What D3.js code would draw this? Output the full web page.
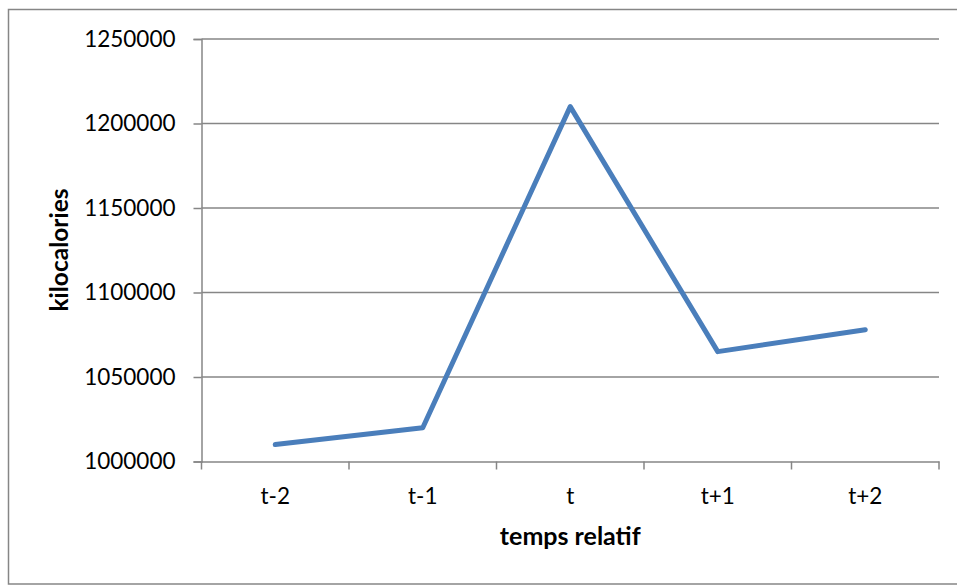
<!DOCTYPE html>
<html>
<head>
<meta charset="utf-8">
<script src="https://cdn.jsdelivr.net/npm/d3@7"></script>
<style>
  html, body { margin: 0; padding: 0; background: #ffffff; }
  svg { display: block; }
  text { font-family: Lato, "Open Sans", sans-serif; fill: #000; }
</style>
</head>
<body>
<svg id="chart" width="957" height="585"></svg>
<script>
const categories = ["t-2", "t-1", "t", "t+1", "t+2"];
const values = [1010000, 1020000, 1210000, 1065000, 1078000];
const yTicks = [1000000, 1050000, 1100000, 1150000, 1200000, 1250000];
const xTitle = "temps relatif";
const yTitle = "kilocalories";

const svg = d3.select("#chart");
const W = 957, H = 585;
const plot = { left: 201.5, right: 939, top: 39, bottom: 461.5 };
const gridColor = "#868686";

// outer frame
svg.append("rect")
  .attr("x", 8.5).attr("y", 9.5)
  .attr("width", 960).attr("height", 574.5)
  .attr("fill", "#fff").attr("stroke", gridColor).attr("stroke-width", 1.5);

const x = d3.scaleBand().domain(categories).range([plot.left, plot.right]).padding(0);
const y = d3.scaleLinear().domain([1000000, 1250000]).range([plot.bottom, plot.top]);

// gridlines
svg.append("g")
  .selectAll("line")
  .data(yTicks.filter(t => t !== 1000000))
  .join("line")
  .attr("x1", plot.left).attr("x2", plot.right)
  .attr("y1", d => y(d)).attr("y2", d => y(d))
  .attr("stroke", gridColor).attr("stroke-width", 1.5);

// y axis
const yAxis = svg.append("g")
  .attr("transform", `translate(${plot.left},0)`)
  .call(d3.axisLeft(y).tickValues(yTicks).tickSize(8).tickPadding(18).tickFormat(d3.format("d")));
yAxis.select(".domain").attr("stroke", gridColor).attr("stroke-width", 1.5);
yAxis.selectAll(".tick line").attr("stroke", gridColor).attr("stroke-width", 1.5);
yAxis.selectAll(".tick text")
  .style("font-size", "22.5px").style("font-family", "Lato, sans-serif").attr("fill", "#000");

// x axis
const xAxis = svg.append("g")
  .attr("transform", `translate(0,${plot.bottom})`)
  .call(d3.axisBottom(x).tickSize(0).tickPadding(27));
xAxis.select(".domain").attr("stroke", gridColor).attr("stroke-width", 1.5);
xAxis.selectAll(".tick text")
  .style("font-size", "22.5px").style("font-family", "Lato, sans-serif").attr("fill", "#000");
// category boundary tick marks
const bounds = d3.range(categories.length + 1).map(i => plot.left + i * x.bandwidth());
svg.append("g").selectAll("line")
  .data(bounds)
  .join("line")
  .attr("x1", d => d).attr("x2", d => d)
  .attr("y1", plot.bottom).attr("y2", plot.bottom + 8)
  .attr("stroke", gridColor).attr("stroke-width", 1.5);

// line series
const line = d3.line()
  .x((d, i) => x(categories[i]) + x.bandwidth() / 2)
  .y(d => y(d));
svg.append("path")
  .datum(values)
  .attr("d", line)
  .attr("fill", "none")
  .attr("stroke", "#4A7EBB")
  .attr("stroke-width", 5)
  .attr("stroke-linejoin", "round")
  .attr("stroke-linecap", "round");

// axis titles
svg.append("text")
  .attr("x", (plot.left + plot.right) / 2).attr("y", 545)
  .attr("text-anchor", "middle")
  .style("font-size", "25px").style("font-weight", "bold")
  .text(xTitle);

svg.append("text")
  .attr("transform", `translate(68,250) rotate(-90)`)
  .attr("text-anchor", "middle")
  .style("font-size", "24.5px").style("font-weight", "bold")
  .text(yTitle);
</script>
</body>
</html>
